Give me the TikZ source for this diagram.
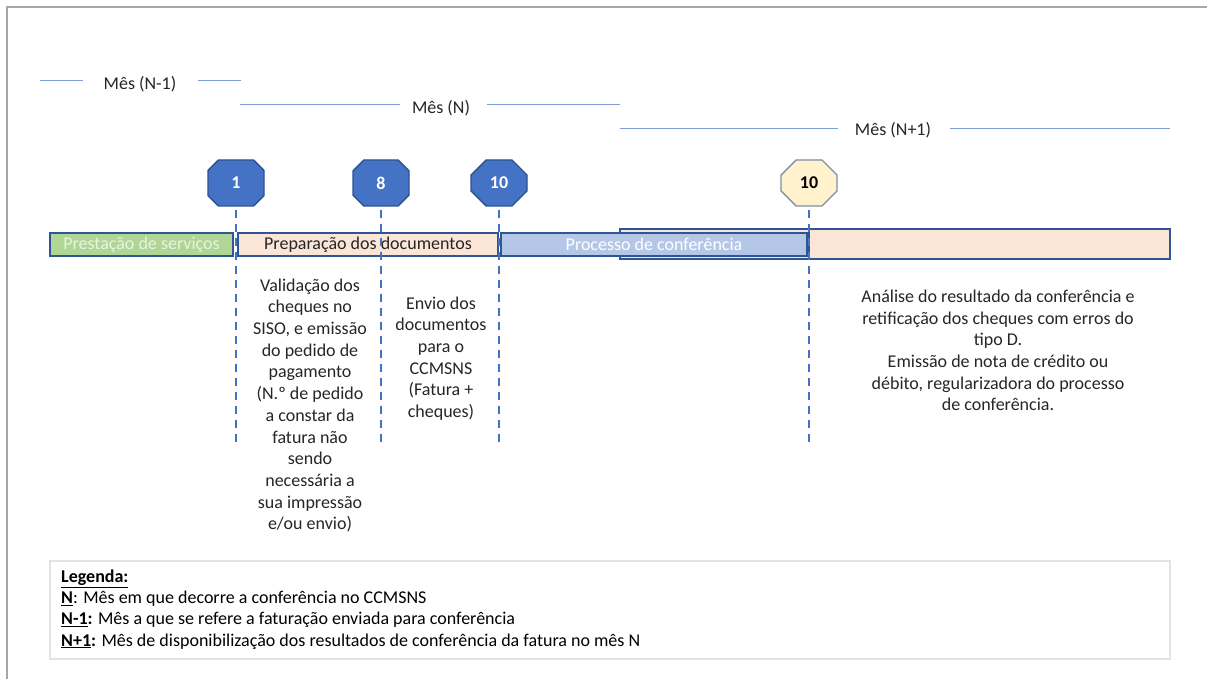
\documentclass[tikz,border=0pt]{standalone}
\usepackage{fontspec}
\setmainfont{Carlito}
\usetikzlibrary{shapes.misc}
\definecolor{octblue}{HTML}{4472C4}
\definecolor{octborder}{HTML}{2F528F}
\definecolor{octyel}{HTML}{FFF2CC}
\definecolor{yelborder}{HTML}{7F8FA6}
\definecolor{barborder}{HTML}{2F5597}
\definecolor{greenfill}{HTML}{B0D696}
\definecolor{greentext}{HTML}{E8F3E0}
\definecolor{peach}{HTML}{FBE5D6}
\definecolor{bluefill}{HTML}{B4C7E7}
\definecolor{monthcol}{HTML}{7F9FD6}
\definecolor{framegrey}{HTML}{A6A6A6}
\definecolor{legendgrey}{HTML}{E3E3E3}
\definecolor{txt}{HTML}{262626}
\tikzset{
  monthline/.style={draw=monthcol, line width=1pt},
  monthlbl/.style={inner sep=0pt, text=txt, font=\fontsize{18}{21}\selectfont},
  oct/.style={chamfered rectangle, chamfered rectangle xsep=12pt, chamfered rectangle ysep=12pt, minimum width=56pt, minimum height=46pt, inner sep=0pt, line width=1.3pt, font=\bfseries\fontsize{18}{21}\selectfont},
  octb/.style={oct, fill=octblue, draw=octborder, text=white},
  octy/.style={oct, fill=octyel, draw=yelborder, text=black},
  bar/.style={draw=barborder, line width=1.5pt, inner sep=0pt, font=\fontsize{18}{21}\selectfont},
  guide/.style={draw=octblue, line width=2.6pt, dash pattern=on 8pt off 6pt},
  body/.style={align=center, inner sep=0pt, text=txt, font=\fontsize{18}{21.7}\selectfont},
}
\begin{document}
\begin{tikzpicture}[x=1pt,y=-1pt]
\useasboundingbox (0,0) rectangle (1207,679);
\fill[white] (0,0) rectangle (1207,679);
% frame
\draw[framegrey, line width=2pt] (7,679) -- (7,7) -- (1207,7);

% month labels
\node[monthlbl] (mN1) at (140,84) {Mês (N-1)};
\node[monthlbl] (mN) at (441,108) {Mês (N)};
\node[monthlbl] (mN2) at (893,130) {Mês (N+1)};
\coordinate (a1) at (40,81); \coordinate (a2) at (83,81);
\coordinate (a3) at (198,81); \coordinate (a4) at (241,81);
\draw[monthline] (a1) -- (a2);
\draw[monthline] (a3) -- (a4);
\coordinate (b1) at (240,105); \coordinate (b2) at (400,105);
\coordinate (b3) at (487,105); \coordinate (b4) at (620,105);
\draw[monthline] (b1) -- (b2);
\draw[monthline] (b3) -- (b4);
\coordinate (c1) at (620,129); \coordinate (c2) at (838,129);
\coordinate (c3) at (950,129); \coordinate (c4) at (1170,129);
\draw[monthline] (c1) -- (c2);
\draw[monthline] (c3) -- (c4);

% bars
\node[bar, fill=peach, minimum width=550pt, minimum height=30pt] (nextbar) at (895,244) {};
\node[bar, fill=peach, minimum width=361pt, minimum height=30pt] (restbar) at (989.5,244) {};
\node[bar, fill=greenfill, text=greentext, minimum width=183pt, minimum height=23pt] (prest) at (141.5,244.5) {Prestação de serviços};
\node[bar, fill=peach, text=txt, minimum width=260pt, minimum height=23pt] (prep) at (368,244.5) {Preparação dos documentos};
\node[bar, fill=bluefill, text=white, minimum width=306pt, minimum height=23pt] (proc) at (654,244.5) {Processo de conferência};

% octagons
\node[octb] (o1) at (236,183) {1};
\node[octb] (o8) at (381,183) {8};
\node[octb] (o10) at (499,183) {10};
\node[octy] (o10b) at (809,183) {10};

% guides
\coordinate (e1) at (236,446);
\coordinate (e8) at (381,446);
\coordinate (e10) at (499,446);
\coordinate (e10b) at (809,446);
\draw[guide] ([yshift=-3pt]o1.south) -- (e1);
\draw[guide] ([yshift=-3pt]o8.south) -- (e8);
\draw[guide] ([yshift=-3pt]o10.south) -- (e10);
\draw[guide] ([yshift=-3pt]o10b.south) -- (e10b);

% texts
\node[body] (t1) at (310,405.5) {Validação dos\\cheques no\\SISO, e emissão\\do pedido de\\pagamento\\(N.º de pedido\\a constar da\\fatura não\\sendo\\necessária a\\sua impressão\\e/ou envio)};
\node[body] (t2) at (441,358.5) {Envio dos\\documentos\\para o\\CCMSNS\\(Fatura +\\cheques)};
\node[body] (t3) at (998,350.5) {Análise do resultado da conferência e\\retificação dos cheques com erros do\\tipo D.\\Emissão de nota de crédito ou\\débito, regularizadora do processo\\de conferência.};

% legend
\node[draw=legendgrey, line width=1.2pt, minimum width=1120pt, minimum height=98pt, inner sep=0pt] (leg) at (610,610) {};
\node[align=left, anchor=west, inner sep=0pt, text=black, font=\fontsize{18}{21.3}\selectfont] (legt) at (61,609.5)
{\textbf{\underline{Legenda:}}\\
\textbf{\underline{N}}: Mês em que decorre a conferência no CCMSNS\\
\textbf{\underline{N-1}:} Mês a que se refere a faturação enviada para conferência\\
\textbf{\underline{N+1}:} Mês de disponibilização dos resultados de conferência da fatura no mês N};
\end{tikzpicture}
\end{document}
